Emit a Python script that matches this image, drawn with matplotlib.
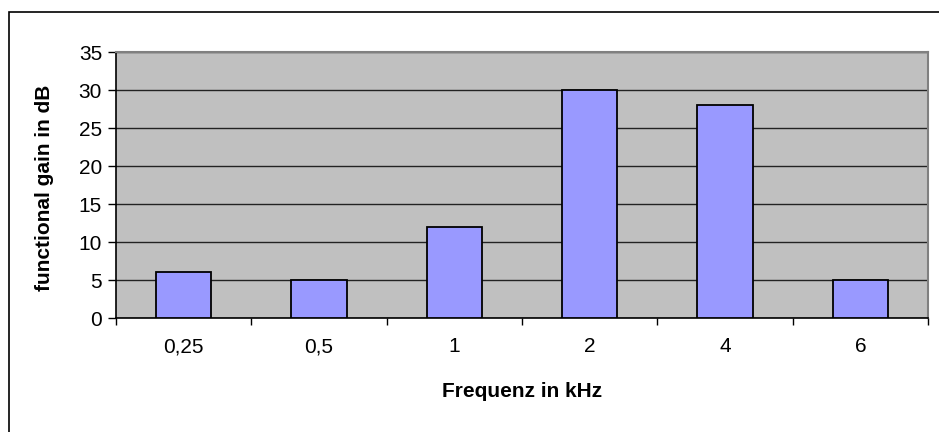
import matplotlib.pyplot as plt
from matplotlib.patches import Rectangle

plt.rcParams["font.family"] = ["Liberation Sans", "DejaVu Sans"]

freqs = ["0,25", "0,5", "1", "2", "4", "6"]
gain_db = [6, 5, 12, 30, 28, 5]

fig = plt.figure(figsize=(9.39, 4.32), dpi=100)
# plot area in pixel terms: left 116, right 928, top 52, bottom 318
W, H = 939, 432
ax = fig.add_axes([116 / W, 1 - 318 / H, (928 - 116) / W, (318 - 52) / H])

# outer chart frame (cut off at right and bottom like the source)
fig.patches.append(Rectangle((9 / W, -0.1), 1.0, 1 - 12 / H + 0.1,
                             transform=fig.transFigure, fill=False,
                             edgecolor="black", lw=1.2))

ax.set_facecolor("#C0C0C0")
x = range(len(freqs))
ax.bar(x, gain_db, width=0.41, color="#9999FF", edgecolor="black", lw=1.3, zorder=3)

ax.set_xlim(-0.5, len(freqs) - 0.5)
ax.set_ylim(0, 35)
ax.set_yticks(range(0, 36, 5))
ax.yaxis.grid(True, color="#222222", lw=1.0, zorder=1)
ax.set_axisbelow(True)

ax.set_xticks(list(x))
ax.set_xticklabels(freqs)
ax.tick_params(axis="x", length=0, pad=14, labelsize=15)
ax.set_xticks([i - 0.5 for i in range(len(freqs) + 1)], minor=True)
ax.tick_params(axis="x", which="minor", length=5, width=1, color="black", direction="out")
ax.tick_params(axis="y", length=6, width=1, direction="out", labelsize=15, pad=4)

for s in ["top", "right"]:
    ax.spines[s].set_color("#808080")
    ax.spines[s].set_linewidth(1.5)
for s in ["left", "bottom"]:
    ax.spines[s].set_color("black")
    ax.spines[s].set_linewidth(1.2)

ax.set_xlabel("Frequenz in kHz", fontsize=15, fontweight="bold")
ax.set_ylabel("functional gain in dB", fontsize=15, fontweight="bold")
ax.xaxis.set_label_coords(0.5, -0.24)
ax.yaxis.set_label_coords(-0.076, 0.49)

plt.savefig("out.png", dpi=100)
